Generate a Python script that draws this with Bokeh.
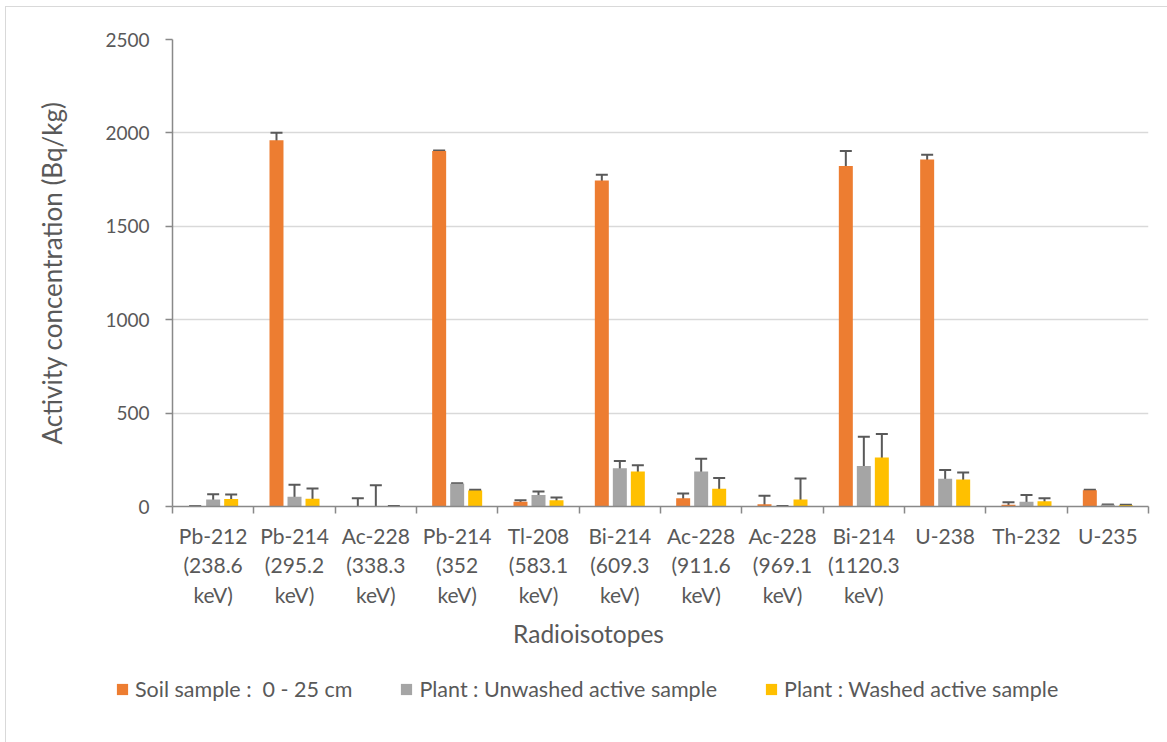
import numpy as np
from bokeh.plotting import figure
from bokeh.layouts import column
from bokeh.models import (ColumnDataSource, Range1d, FixedTicker, Whisker, TeeHead,
                          Legend, LegendItem, Label)
from bokeh.embed import file_html
from bokeh.resources import INLINE

# ---------------- data ----------------
categories = ["Pb-212\n(238.6\nkeV)", "Pb-214\n(295.2\nkeV)", "Ac-228\n(338.3\nkeV)",
              "Pb-214\n(352\nkeV)", "Tl-208\n(583.1\nkeV)", "Bi-214\n(609.3\nkeV)",
              "Ac-228\n(911.6\nkeV)", "Ac-228\n(969.1\nkeV)", "Bi-214\n(1120.3\nkeV)",
              "U-238", "Th-232", "U-235"]

series_names = ["Soil sample :  0 - 25 cm", "Plant : Unwashed active sample",
                "Plant : Washed active sample"]
series_colors = ["#ED7D31", "#A5A5A5", "#FFC000"]

soil = [1, 1960, 1, 1903, 25, 1745, 44, 12, 1823, 1858, 9, 87]
soil_err = [1, 41, 43, 3, 8, 31, 25, 45, 80, 25, 14, 2]

unwashed = [38, 52, 1, 122, 62, 205, 187, 1, 217, 149, 25, 9]
unwashed_err = [27, 65, 113, 3, 18, 39, 68, 2, 157, 46, 36, 2]

washed = [40, 41, 1, 86, 33, 188, 95, 37, 262, 145, 28, 7]
washed_err = [24, 55, 2, 3, 15, 33, 58, 113, 126, 37, 16, 2]

y_ticks = [0, 500, 1000, 1500, 2000, 2500]

values = [soil, unwashed, washed]
errors = [soil_err, unwashed_err, washed_err]

x_title = "Radioisotopes"
y_title = "Activity concentration (Bq/kg)"

# ---------------- style ----------------
FONT = "Lato"
TXT = "#595959"
AXC = "#898989"
offsets = [-0.2214, 0.0, 0.2214]
bar_w = 0.172
W = 1161

n = len(categories)
idx = np.arange(n)
centers = idx + 0.5

p = figure(width=W, height=611, x_range=Range1d(0, n), y_range=Range1d(0, 2500),
           output_backend="svg", toolbar_location=None,
           min_border_left=166, min_border_right=19, min_border_top=32, min_border_bottom=112)
p.frame_align = False
p.outline_line_color = None
p.background_fill_color = "white"
p.border_fill_color = "white"
p.xgrid.visible = False
p.ygrid.grid_line_color = "#d9d9d9"
p.ygrid.grid_line_width = 1.3

# y axis
p.yaxis.ticker = FixedTicker(ticks=y_ticks)
p.yaxis.major_tick_out = 7
p.yaxis.major_tick_in = 0
p.yaxis.minor_tick_line_color = None
p.yaxis.axis_line_color = AXC
p.yaxis.axis_line_width = 1.5
p.yaxis.major_tick_line_color = AXC
p.yaxis.major_tick_line_width = 1.5
p.yaxis.major_label_text_font = FONT
p.yaxis.major_label_text_font_size = "19px"
p.yaxis.major_label_text_color = TXT
p.yaxis.major_label_standoff = 16
p.yaxis.axis_label = y_title
p.yaxis.axis_label_text_font = FONT
p.yaxis.axis_label_text_font_size = "26px"
p.yaxis.axis_label_text_font_style = "normal"
p.yaxis.axis_label_text_color = TXT
p.yaxis.axis_label_standoff = 34

# x axis
p.xaxis.ticker = FixedTicker(ticks=list(centers), minor_ticks=list(np.arange(n + 1)))
p.xaxis.major_label_overrides = {float(c): lab for c, lab in zip(centers, categories)}
p.xaxis.major_tick_line_color = None
p.xaxis.major_tick_out = 7
p.xaxis.major_tick_in = 0
p.xaxis.minor_tick_line_color = AXC
p.xaxis.minor_tick_line_width = 1.5
p.xaxis.minor_tick_out = 7
p.xaxis.minor_tick_in = 0
p.xaxis.axis_line_color = AXC
p.xaxis.axis_line_width = 1.5
p.xaxis.major_label_text_font = FONT
p.xaxis.major_label_text_font_size = "21px"
p.xaxis.major_label_text_color = TXT
p.xaxis.major_label_text_line_height = 1.19
p.xaxis.major_label_standoff = 9

for k in range(3):
    xs = centers + offsets[k]
    v = np.array(values[k], dtype=float)
    e = np.array(errors[k], dtype=float)
    src = ColumnDataSource(dict(x=xs, top=v))
    p.vbar(x="x", top="top", width=bar_w, source=src, fill_color=series_colors[k],
           line_color=None)

    lo = v - e
    hi = v + e
    full = lo >= 0
    if full.any():
        s1 = ColumnDataSource(dict(x=xs[full], upper=hi[full], lower=lo[full]))
        p.add_layout(Whisker(source=s1, base="x", upper="upper", lower="lower",
                             dimension="height", line_color="#595959", line_width=2,
                             upper_head=TeeHead(size=12, line_color="#595959", line_width=2),
                             lower_head=TeeHead(size=12, line_color="#595959", line_width=2)))
    part = ~full
    if part.any():
        s2 = ColumnDataSource(dict(x=xs[part], upper=hi[part], lower=np.zeros(part.sum())))
        p.add_layout(Whisker(source=s2, base="x", upper="upper", lower="lower",
                             dimension="height", line_color="#595959", line_width=2,
                             upper_head=TeeHead(size=12, line_color="#595959", line_width=2),
                             lower_head=None))

# ---------------- bottom strip: axis title + legend ----------------
H2 = 124
p2 = figure(width=W, height=H2, x_range=Range1d(0, W), y_range=Range1d(0, H2),
            output_backend="svg", toolbar_location=None,
            x_axis_type=None, y_axis_type=None,
            min_border_left=0, min_border_right=0, min_border_top=0, min_border_bottom=0)
p2.frame_align = False
p2.outline_line_color = None
p2.background_fill_color = "white"
p2.border_fill_color = "white"

items = []
for k in range(3):
    # zero-height placeholder bar: only its legend swatch is seen
    ph = ColumnDataSource(dict(x=[0.0], top=[0.0]))
    r = p2.vbar(x="x", top="top", width=1, source=ph, fill_color=series_colors[k],
                line_color=None)
    items.append(LegendItem(label=series_names[k], renderers=[r]))

p2.add_layout(Label(x=582, y=109, x_units="screen", y_units="screen", text=x_title,
                    text_align="center", text_baseline="middle", text_font=FONT,
                    text_font_size="24.5px", text_color=TXT))

legend = Legend(items=items, orientation="horizontal", location=(109, 40),
                padding=0, margin=0, border_line_color=None, background_fill_alpha=0,
                glyph_width=14, glyph_height=14, label_standoff=6, spacing=47,
                label_text_font=FONT, label_text_font_size="21.5px", label_text_color=TXT)
p2.add_layout(legend)

layout = column(p, p2, spacing=0,
                styles={"border-top": "1px solid #d9d9d9", "border-left": "1px solid #d9d9d9",
                        "margin-left": "5px", "margin-top": "6px"})

open("out.html", "w").write(file_html(layout, INLINE))
